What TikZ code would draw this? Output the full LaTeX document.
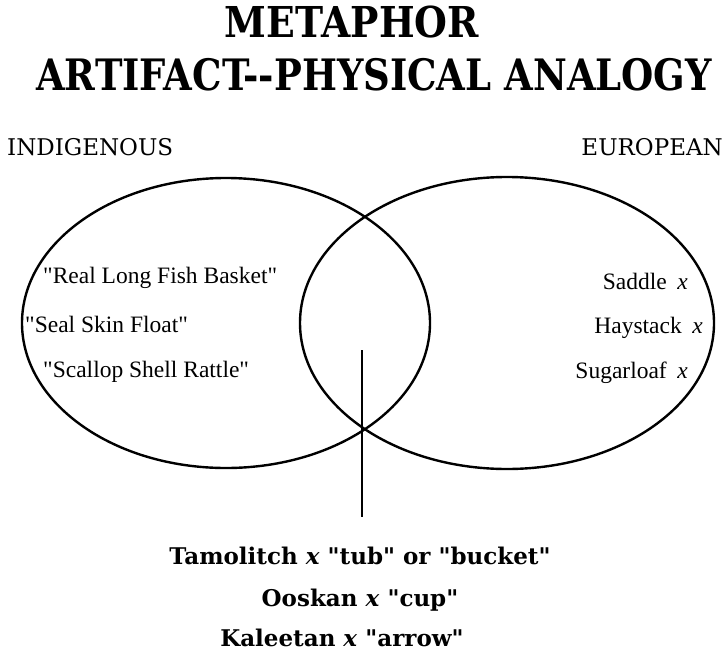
\documentclass[tikz,border=0pt]{standalone}
\usepackage{fontspec}
\setmainfont{Liberation Serif}[Ligatures=TeXOff]
\newfontfamily\headfont{DejaVu Serif}
\usetikzlibrary{shapes.geometric}

\begin{document}
\begin{tikzpicture}[
  x=1pt, y=-1pt,
  venn/.style={draw, ellipse, line width=2.4pt, inner sep=0pt},
  title/.style={font=\headfont\bfseries\fontsize{37}{40}\selectfont, inner sep=0pt},
  side/.style={font=\headfont\fontsize{23}{26}\selectfont, inner sep=0pt},
  item/.style={font=\fontsize{23.5}{26}\selectfont, inner sep=0pt},
  term/.style={font=\headfont\bfseries\fontsize{23}{28}\selectfont, inner sep=0pt, anchor=base},
  stem/.style={line width=2.4pt},
]
\useasboundingbox (0,0) rectangle (727,653);

% headings
\node[title, anchor=base] (head1) at (352,37) {\scalebox{1.02}[1.15]{METAPHOR}};
\node[title, anchor=base west] (head2) at (36,90) {\scalebox{1}[1.17]{ARTIFACT-{}-PHYSICAL ANALOGY}};
\node[side, anchor=base west] (indig) at (7,155) {INDIGENOUS};
\node[side, anchor=base east] (europ) at (723,155) {EUROPEAN};

% the two sets
\node[venn, minimum width=408pt, minimum height=290pt] (left) at (226,323) {};
\node[venn, minimum width=414pt, minimum height=292pt] (right) at (507,323) {};

\node[item, anchor=base west] (basket) at (43,283) {"Real Long Fish Basket"};
\node[item, anchor=base west] (float) at (25,332) {"Seal Skin Float"};
\node[item, anchor=base west] (rattle) at (43,377) {"Scallop Shell Rattle"};

\node[item, anchor=base east] (saddle) at (688,289) {Saddle\hspace{0.45em}\textit{x}};
\node[item, anchor=base east] (hay) at (703,333) {Haystack\hspace{0.45em}\textit{x}};
\node[item, anchor=base east] (sugar) at (688,378) {Sugarloaf\hspace{0.45em}\textit{x}};

% shared terms
\coordinate (stemTop) at (362,350);
\coordinate (stemEnd) at (362,517);
\draw[stem] (stemTop) -- (stemEnd);

\node[term] (tamo) at (360,564) {Tamolitch \textit{x} "tub" or "bucket"};
\node[term] (oos) at (360,606) {Ooskan \textit{x} "cup"};
\node[term] (kal) at (342,646) {Kaleetan \textit{x} "arrow"};
\end{tikzpicture}
\end{document}
